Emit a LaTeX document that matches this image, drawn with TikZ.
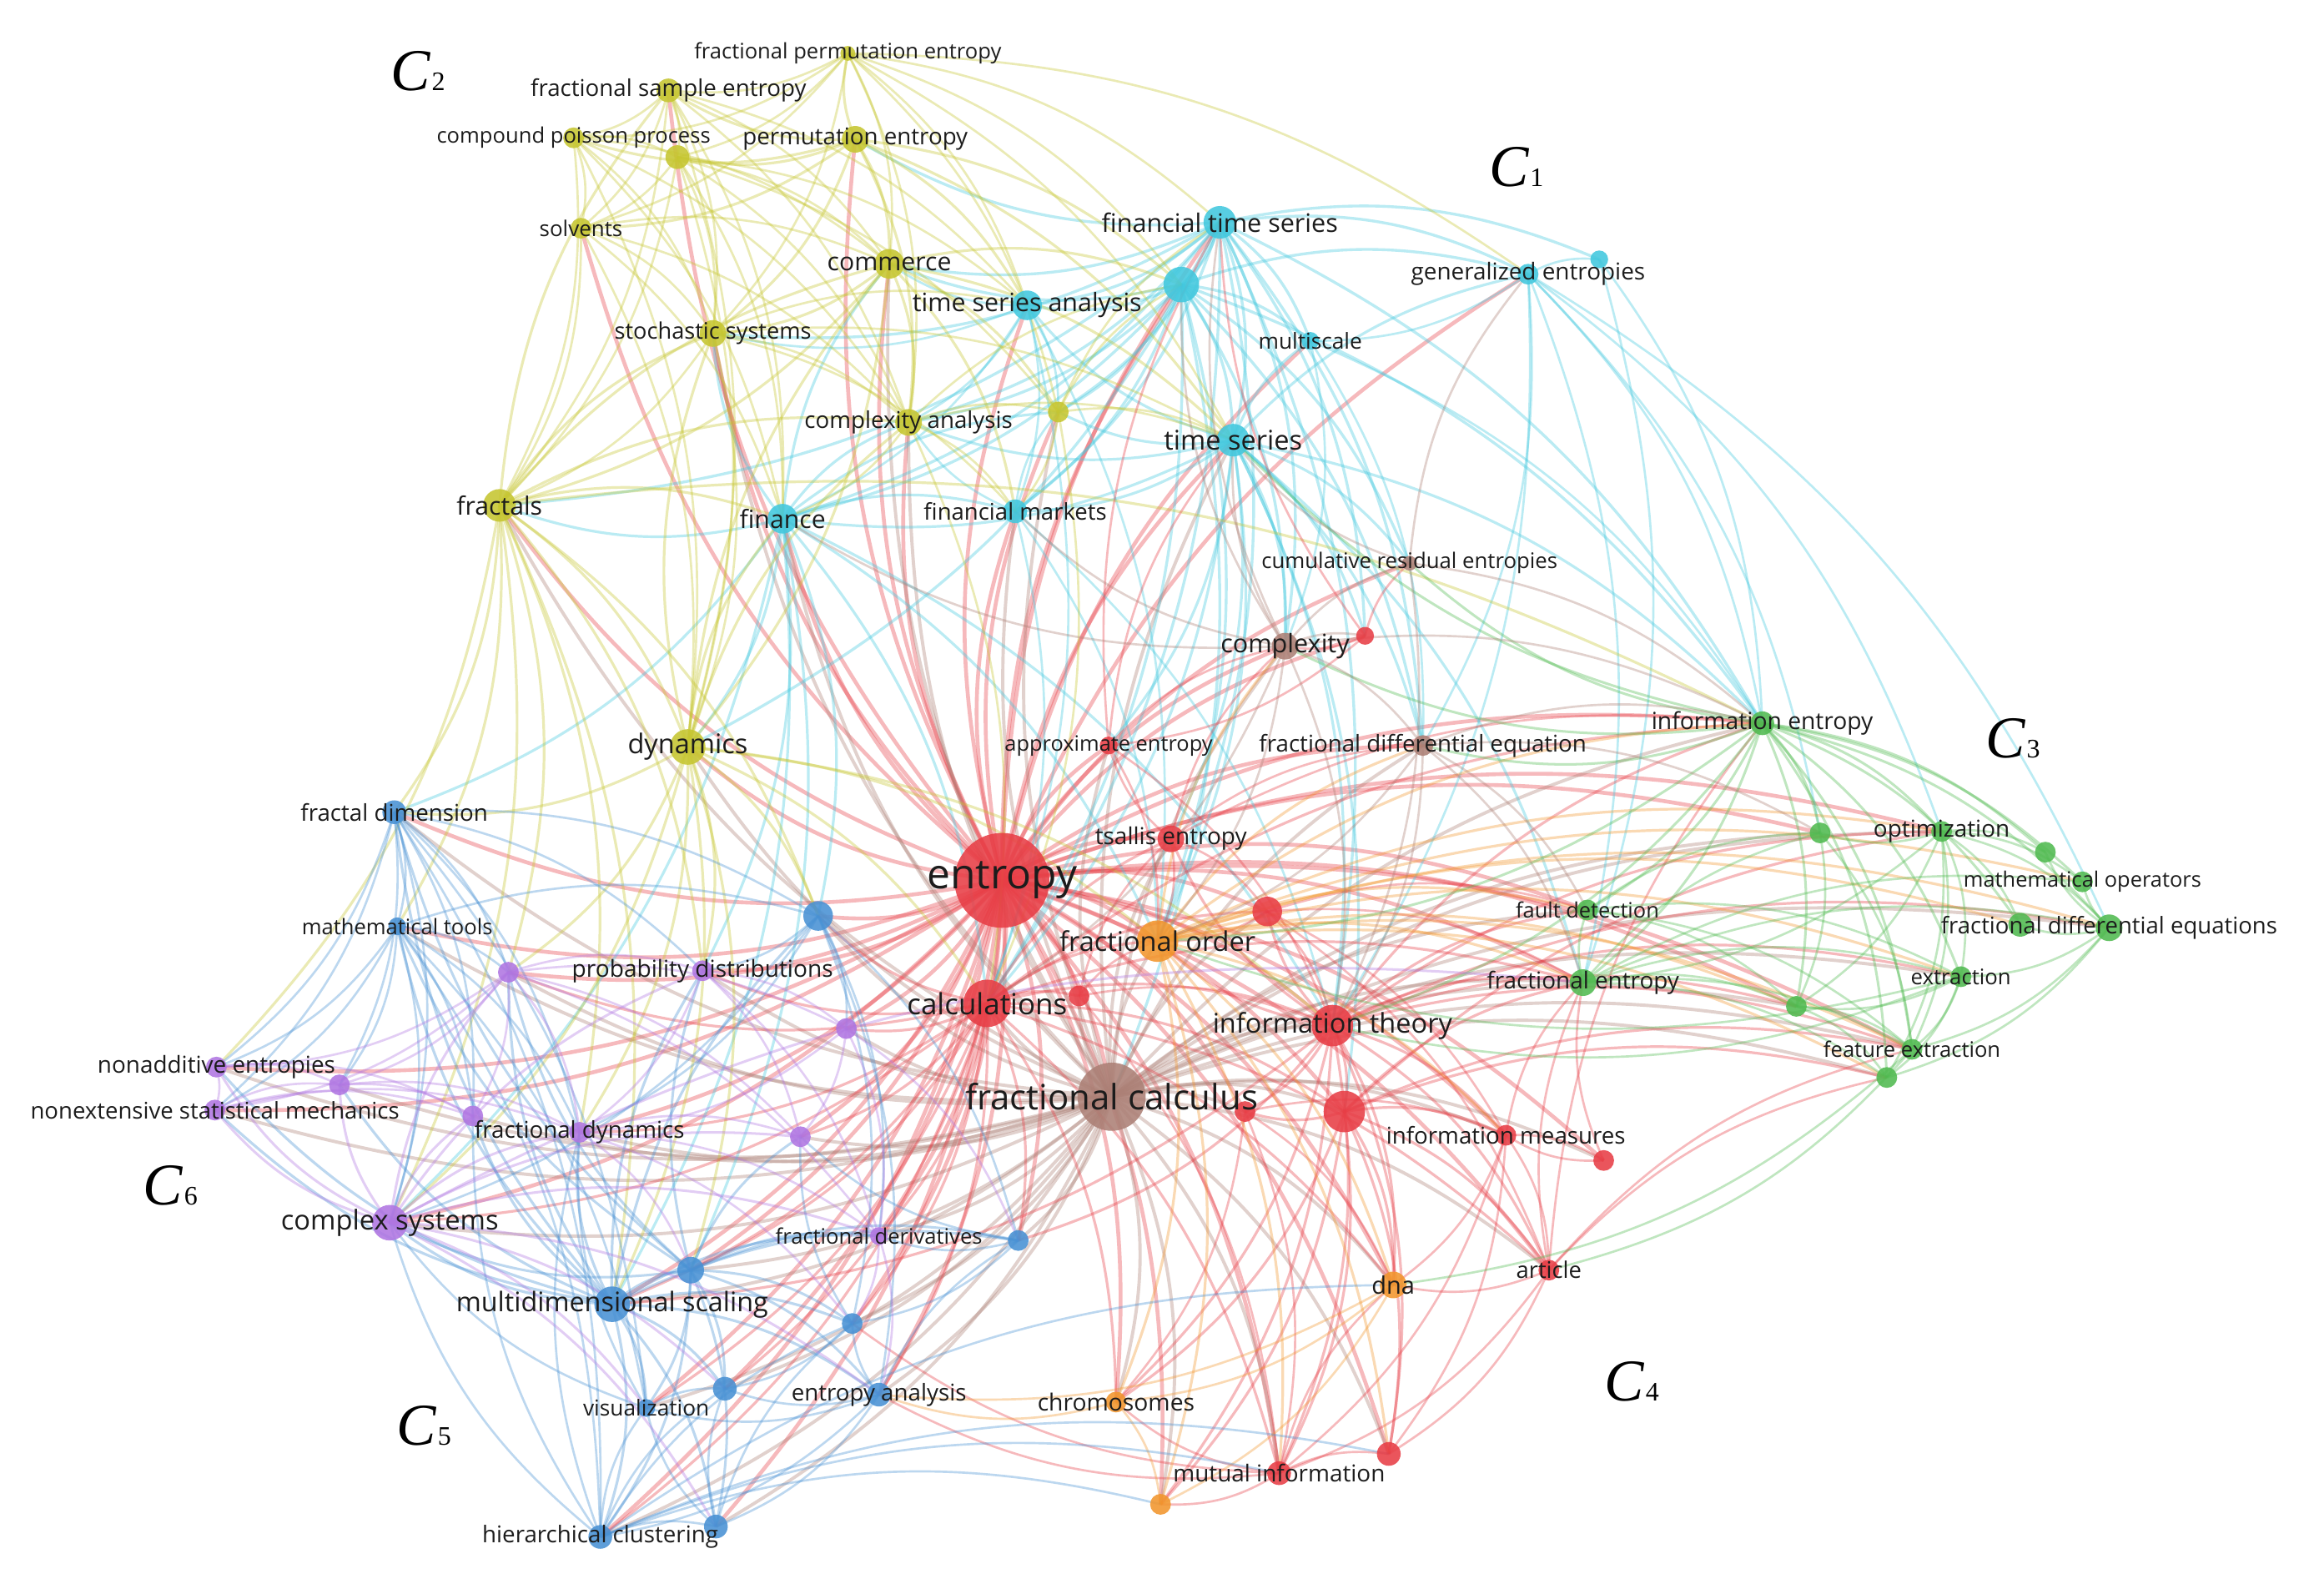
\documentclass[tikz,border=0pt]{standalone}
\usepackage[no-math]{fontspec}
\setmainfont{Open Sans}
\newfontfamily\cfont{Liberation Serif}
\pgfdeclarelayer{bg}\pgfdeclarelayer{fg}\pgfsetlayers{bg,main,fg}
\definecolor{cR}{RGB}{232,62,70}
\definecolor{cC}{RGB}{66,200,222}
\definecolor{cY}{RGB}{198,198,48}
\definecolor{cG}{RGB}{80,186,80}
\definecolor{cB}{RGB}{72,145,212}
\definecolor{cP}{RGB}{176,118,226}
\definecolor{cO}{RGB}{242,150,45}
\definecolor{cN}{RGB}{172,128,118}
\definecolor{txt}{RGB}{28,28,28}
\tikzset{
  ed/.style={draw=#1,line width=1.5pt,opacity=0.36},
  dot/.style={circle,inner sep=0pt,fill=#1,fill opacity=0.88,draw=none},
  lab/.style={text=txt,inner sep=0pt},
  clab/.style={text=black,inner sep=0pt}
}
\newcommand\N[7]{\node[dot=#5,minimum size=2*#4] (#1) at (#2,#3) {};
  \begin{pgfonlayer}{fg}\node[lab,font=\fontsize{#6}{#6}\selectfont] (#1l) at (#2,#3) {#7};\end{pgfonlayer}}
\newcommand\U[5]{\node[dot=#5,minimum size=2*#4] (#1) at (#2,#3) {};}
\newcommand\Edges[4][]{\foreach \t in {#4}{\draw[ed=#3,#1] (#2.center) to[bend left=17] (\t.center);}}
\newcommand\CL[4]{\node[clab] (#1) at (#2,#3) {\cfont\fontsize{40}{40}\selectfont\itshape C\kern1pt\upshape\fontsize{18}{18}\selectfont #4};}
\begin{document}
\begin{tikzpicture}[x=1pt,y=-1pt]
\begin{pgfonlayer}{bg}
\fill[white] (0,0) rectangle (1568,1072);
\end{pgfonlayer}
\useasboundingbox (0,0) rectangle (1568,1072);
% ---------------- nodes
% yellow
\N{fpe}{572}{36}{5}{cY}{14.4}{fractional permutation entropy}
\N{fse}{451}{61}{8}{cY}{15.6}{fractional sample entropy}
\N{cpp}{387}{93}{7}{cY}{14.4}{compound poisson process}
\U{y1}{457}{106}{8}{cY}
\N{pe}{577}{94}{9}{cY}{15.6}{permutation entropy}
\N{solv}{392}{154}{7}{cY}{14.6}{solvents}
\N{comm}{600}{178}{10}{cY}{17}{commerce}
\N{stoch}{481}{225}{9}{cY}{15.3}{stochastic systems}
\N{cana}{613}{285}{9}{cY}{15.6}{complexity analysis}
\U{y2}{714}{278}{7}{cY}
\N{fractals}{337}{341}{11}{cY}{17}{fractals}
\N{dyn}{464}{504}{12}{cY}{18.3}{dynamics}
% cyan
\N{fts}{823}{150}{11}{cC}{17.2}{financial time series}
\U{c1}{797}{192}{12}{cC}
\N{tsa}{693}{206}{10}{cC}{17.1}{time series analysis}
\N{gent}{1031}{185}{7}{cC}{15.7}{generalized entropies}
\U{c2}{1079}{175}{6}{cC}
\N{msc}{884}{230}{6}{cC}{14.8}{multiscale}
\N{ts}{832}{297}{11}{cC}{18.3}{time series}
\N{fin}{528}{350}{10}{cC}{17}{finance}
\N{fmk}{685}{345}{8}{cC}{15.5}{financial markets}
% brown
\N{cre}{951}{380}{5}{cN}{14.5}{cumulative residual entropies}
\N{cplx}{867}{436}{9}{cN}{17.2}{complexity}
\U{r0}{921}{429}{6}{cR}
\N{fde}{960}{503}{7}{cN}{15.6}{fractional differential equation}
\N{fcal}{750}{740}{23}{cN}{23.6}{fractional calculus}
% red
\N{ent}{676}{594}{32}{cR}{28}{entropy}
\N{ape}{748}{503}{6}{cR}{14.3}{approximate entropy}
\N{tsal}{790}{566}{9}{cR}{15.75}{tsallis entropy}
\U{r1}{855}{615}{10}{cR}
\N{calc}{666}{677}{16}{cR}{19.7}{calculations}
\U{r2}{728}{672}{7}{cR}
\N{itheo}{899}{692}{14}{cR}{18.3}{information theory}
\U{r3}{907}{750}{14}{cR}
\U{r4}{840}{750}{7}{cR}
\N{imeas}{1016}{766}{7}{cR}{15.6}{information measures}
\U{r5}{1082}{783}{7}{cR}
\N{art}{1045}{857}{7}{cR}{15.4}{article}
\N{mi}{863}{994}{8}{cR}{15.7}{mutual information}
\U{r6}{937}{981}{8}{cR}
% orange
\N{ford}{781}{635}{14}{cO}{18.3}{fractional order}
\N{dna}{940}{867}{9}{cO}{16.3}{dna}
\N{chrom}{753}{946}{7}{cO}{15.9}{chromosomes}
\U{o1}{783}{1015}{7}{cO}
% green
\N{ient}{1189}{488}{8}{cG}{15.9}{information entropy}
\N{opt}{1310}{561}{7}{cG}{15.7}{optimization}
\U{g1}{1228}{562}{7}{cG}
\U{g2}{1380}{575}{7}{cG}
\N{mop}{1405}{595}{7}{cG}{14.3}{mathematical operators}
\U{g3}{1363}{624}{8}{cG}
\N{fdes}{1423}{626}{9}{cG}{15.5}{fractional differential equations}
\N{fdet}{1071}{614}{7}{cG}{14.3}{fault detection}
\N{fent}{1068}{663}{9}{cG}{15.7}{fractional entropy}
\N{extr}{1323}{659}{7}{cG}{14.5}{extraction}
\U{g4}{1212}{679}{7}{cG}
\N{fext}{1290}{708}{7}{cG}{14.4}{feature extraction}
\U{g5}{1273}{727}{7}{cG}
% blue
\N{fdim}{266}{548}{8}{cB}{15.6}{fractal dimension}
\N{mtool}{268}{625}{6}{cB}{14.4}{mathematical tools}
\U{b1}{552}{618}{10}{cB}
\N{mds}{413}{880}{12}{cB}{18.2}{multidimensional scaling}
\U{b2}{466}{857}{9}{cB}
\U{b3}{687}{837}{7}{cB}
\U{b4}{575}{893}{7}{cB}
\N{eana}{593}{941}{8}{cB}{15.6}{entropy analysis}
\U{b5}{489}{937}{8}{cB}
\N{vis}{436}{950}{6}{cB}{14.8}{visualization}
\N{hclu}{405}{1037}{8}{cB}{15.6}{hierarchical clustering}
\U{b6}{483}{1030}{8}{cB}
% purple
\U{p1}{343}{656}{7}{cP}
\N{pdist}{474}{655}{7}{cP}{15.8}{probability distributions}
\U{p2}{571}{694}{7}{cP}
\N{nadd}{146}{720}{7}{cP}{15.7}{nonadditive entropies}
\U{p3}{229}{732}{7}{cP}
\N{nesm}{145}{749}{7}{cP}{15.5}{nonextensive statistical mechanics}
\U{p4}{319}{753}{7}{cP}
\N{fdyn}{391}{764}{7}{cP}{15.6}{fractional dynamics}
\U{p5}{540}{767}{7}{cP}
\N{csys}{263}{825}{12}{cP}{18.4}{complex systems}
\N{fder}{593}{834}{6}{cP}{14.4}{fractional derivatives}
% cluster labels
\CL{C1}{1023}{113}{1}
\CL{C2}{282}{48}{2}
\CL{C3}{1358}{498}{3}
\CL{C4}{1101}{932}{4}
\CL{C5}{286}{962}{5}
\CL{C6}{115}{800}{6}
% ---------------- edges
\begin{pgfonlayer}{bg}
\Edges[line width=2.6pt]{ent}{cR}{fts,c1,tsa,ts,fin,fmk,comm,cana,y2,fractals,dyn,pe,stoch,cplx,cre,fde,ape,tsal,r1,calc,r2,itheo,r3,r4,imeas,art,mi,r6,ford,dna,chrom,o1,ient,fent,fdet,opt,g4,fdim,mtool,b1,mds,b2,b3,b4,eana,vis,hclu,b6,p1,pdist,p2,nadd,nesm,fdyn,p5,csys,fder,gent,msc,r0,fcal,fse,solv,b5,g1,fext,r5}
\Edges[line width=2.2pt]{fcal}{cN}{calc,ford,itheo,r3,r4,imeas,art,mi,r6,dna,chrom,o1,fdyn,fder,csys,mds,b2,b3,b4,eana,b5,vis,hclu,b6,fdim,p5,p2,pdist,fent,fdet,fdes,opt,g1,g4,fext,extr,ient,cplx,fde,ts,fin,fmk,dyn,fractals,tsal,r1,ape,b1,r2,mtool,p1,nesm,nadd,p3,p4,r5,g5,comm,cana,y2,stoch}
\Edges[line width=1.9pt]{fts}{cC}{c1,tsa,gent,c2,msc,ts,fin,fmk,comm,cana,y2,pe,stoch,cplx,ient,fractals,dyn,calc,ford,itheo,fde,r0}
\Edges[line width=1.9pt]{c1}{cC}{tsa,ts,fin,fmk,msc,gent,comm,cana,y2,cplx,ient,calc,ford,cre,fde,fcal}
\Edges[line width=1.8pt]{ts}{cC}{tsa,fin,fmk,msc,gent,cana,y2,cplx,cre,ient,r0,fde,itheo,ape,calc,ford,fent,r3,tsal}
\Edges{tsa}{cC}{fin,fmk,comm,cana,stoch,y2,calc,ford}
\Edges[line width=1.8pt]{fin}{cC}{fmk,comm,cana,stoch,fractals,dyn,b1,calc,y2,ford,itheo,mds,b2,csys,pdist,fdim}
\Edges{fmk}{cC}{cana,y2,calc,ford,itheo}
\Edges{gent}{cC}{c2,msc,ient,fent,opt,fde,itheo,fdes,g1}
\Edges{msc}{cC}{fde,cplx,ient}
\Edges{c2}{cC}{ient,fent}
\Edges[line width=1.8pt]{pe}{cY}{fpe,fse,cpp,y1,comm,solv,stoch,cana,c1,tsa,ts}
\Edges{fpe}{cY}{fse,cpp,y1,comm,solv,stoch,c1,gent,cana,tsa,fts,ts,y2}
\Edges{fse}{cY}{cpp,y1,comm,solv,stoch,fractals,cana,tsa,dyn,fin}
\Edges{cpp}{cY}{y1,solv,stoch,fractals,dyn,comm,cana,fin}
\Edges{y1}{cY}{comm,solv,stoch,cana,fin,fractals,dyn,tsa,y2}
\Edges{solv}{cY}{fractals,dyn,comm,cana,fin,stoch}
\Edges[line width=1.8pt]{comm}{cY}{stoch,cana,y2,fractals,dyn,c1,ts,fmk}
\Edges{stoch}{cY}{cana,fractals,dyn,fmk,tsa,ts}
\Edges{cana}{cY}{y2,fmk,ts,fin,c1,calc}
\Edges{y2}{cY}{fmk,ts,c1,fts,calc}
\Edges[line width=1.8pt]{fractals}{cY}{dyn,fdim,mtool,csys,pdist,b1,fin,stoch,cana,fse,comm,p1,nadd,fdyn,mds,ient}
\Edges[line width=1.8pt]{dyn}{cY}{fdim,calc,ford,csys,mds,b1,itheo,fin,cana,stoch,comm,pdist,fdyn,p1,b2}
\Edges[line width=1.8pt]{calc}{cR}{ford,itheo,r3,r2,r1,tsal,mi,art,dna,chrom,eana,b4,mds,hclu,p2,fdyn,b2,b3,b5,vis,csys,p1,pdist,fder,p5,b1,ient,fent}
\Edges[line width=1.8pt]{itheo}{cR}{r3,r4,imeas,art,mi,r6,tsal,r1,ford,fent,ient,fdet,g4,extr,fext,dna,chrom,o1,mds,b3,opt,fdes}
\Edges[line width=1.8pt]{r3}{cR}{imeas,art,mi,r6,r4,dna,fent,g5,chrom,o1,fext,opt}
\Edges{tsal}{cR}{r1,ape,cplx,ford,fde,ient}
\Edges{r1}{cR}{ford,fent,fdet,imeas,itheo,art}
\Edges{imeas}{cR}{art,r5,mi,r6,dna,fent}
\Edges{art}{cR}{mi,r6,dna,fext,ient,fent,g5}
\Edges{mi}{cR}{r6,dna,chrom,o1,eana,b4}
\Edges{r4}{cR}{mi,dna,chrom,imeas}
\Edges{r2}{cR}{ford,tsal,itheo,mi}
\Edges{r5}{cR}{fent,imeas}
\Edges{r0}{cR}{cplx,ape,fts,cre}
\Edges{ape}{cR}{cplx,ts,fts,ford,itheo}
\Edges[line width=1.8pt]{ford}{cO}{dna,chrom,o1,fent,fdet,opt,extr,g3,fdes,mop,g4,fext,g5,ient,mi,r6,imeas,cplx,fde}
\Edges{dna}{cO}{chrom,o1,eana}
\Edges{chrom}{cO}{o1,eana}
\Edges[line width=1.7pt]{ient}{cG}{opt,g1,g2,mop,fdes,g3,extr,g4,fext,g5,fent,fdet,cplx,cre,fde,itheo,ford,ts}
\Edges{opt}{cG}{g1,g2,mop,fdes,g3,extr,g4,fext,g5,fent}
\Edges{fdes}{cG}{mop,g2,g3,extr,fext,g5}
\Edges{fent}{cG}{fdet,g1,g4,extr,fext,g5,mop,fdes}
\Edges{fdet}{cG}{g1,g4,extr,fext}
\Edges{extr}{cG}{fext,g5,g4,itheo,ford}
\Edges{g4}{cG}{fext,g5}
\Edges{g1}{cG}{g4,fext}
\Edges{fext}{cG}{art,dna}
\Edges{cplx}{cN}{ts,fts,c1,ient,r0,cre,fde,itheo,ford,calc,fin,fmk}
\Edges{fde}{cN}{fent,fdet,ient,g1,itheo,ford}
\Edges{cre}{cN}{ts,ient,itheo,gent}
\Edges[line width=1.8pt]{mds}{cB}{b2,b3,b4,eana,b5,vis,hclu,b6,fdim,mtool,csys,fdyn,p1,pdist,b1,fder,p4,p3,nadd,nesm}
\Edges[line width=1.7pt]{b2}{cB}{b3,b4,eana,b5,vis,hclu,b6,csys,fder,p5,fdim,mtool,p1,pdist}
\Edges{fdim}{cB}{mtool,b1,csys,nadd,p1,pdist,fdyn,nesm,p3,p4,vis,hclu}
\Edges{mtool}{cB}{b1,p1,csys,fdyn,vis,nadd,nesm,p3,p4,hclu}
\Edges{b1}{cB}{pdist,p2,b3,fder,b4,eana,fdyn,csys}
\Edges{eana}{cB}{b4,b5,hclu,b6,vis,b3}
\Edges{hclu}{cB}{b6,vis,b5,b4,csys,fdyn,p4,mi,o1,r6,dna}
\Edges{b3}{cB}{b4,fder,p5}
\Edges{b6}{cB}{vis,b5,b4}
\Edges{vis}{cB}{b5,csys,fdyn}
\Edges{b4}{cB}{p5,b5}
\Edges[line width=1.7pt]{csys}{cP}{nadd,nesm,p3,p4,fdyn,p1,pdist,p5,fder,vis,b5,b6,eana,fent}
\Edges{p1}{cP}{pdist,nadd,nesm,p3,p4,fdyn,p2,p5,fder}
\Edges{pdist}{cP}{p2,p5,fdyn,fder}
\Edges{p2}{cP}{fder,p5,b3,fdyn}
\Edges{nadd}{cP}{nesm,p3,p4}
\Edges{nesm}{cP}{p3,p4,fdyn}
\Edges{fdyn}{cP}{p5,fder,b2,b4}
\Edges{fder}{cP}{b4,eana}
\Edges{p3}{cP}{p4,fdyn}
\end{pgfonlayer}
\end{tikzpicture}
\end{document}
